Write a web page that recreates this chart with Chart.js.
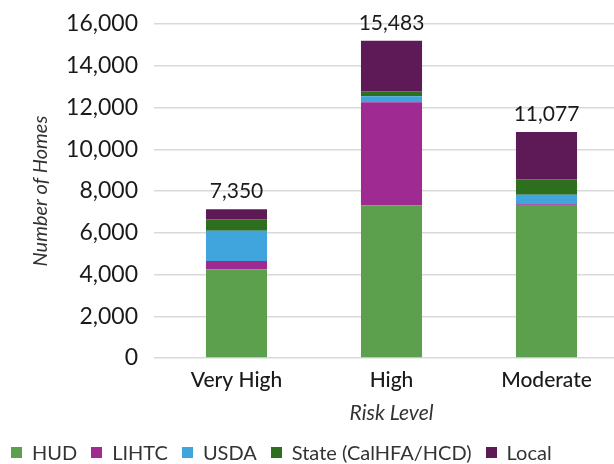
<!DOCTYPE html>
<html>
<head>
<meta charset="utf-8">
<script src="https://cdn.jsdelivr.net/npm/chart.js@4"></script>
<style>
  html, body { margin: 0; padding: 0; background: #fff; overflow: hidden; }
  #wrap { position: relative; width: 624px; height: 464px; }
  #legend {
    position: absolute; left: 11px; top: 440px;
    display: flex; align-items: center;
    font-family: Lato, "Open Sans", sans-serif; font-size: 20px; color: #333;
    white-space: nowrap;
  }
  #legend .item { display: flex; align-items: center; margin-right: 14px; }
  #legend .box { width: 11px; height: 11px; margin-right: 10px; }
</style>
</head>
<body>
<div id="wrap">
  <canvas id="riskChart" width="624" height="464"></canvas>
  <div id="legend"></div>
</div>
<script>
const categories = ["Very High", "High", "Moderate"];
const hud = [4240, 7320, 7290];
const lihtc = [410, 4930, 80];
const usda = [1440, 290, 445];
const state = [560, 240, 750];
const local = [480, 2420, 2260];
const totals = [7350, 15483, 11077];
const yTicks = [0, 2000, 4000, 6000, 8000, 10000, 12000, 14000, 16000];

const fontFamily = "Lato, 'Open Sans', sans-serif";
const textColor = "#1a1a1a";

// totals above each bar
const totalLabels = {
    id: "totalLabels",
    afterDatasetsDraw(chart) {
        const ctx = chart.ctx;
        const lastMeta = chart.getDatasetMeta(chart.data.datasets.length - 1);
        ctx.save();
        ctx.font = "21px " + fontFamily;
        ctx.fillStyle = textColor;
        ctx.textAlign = "center";
        ctx.textBaseline = "bottom";
        lastMeta.data.forEach((bar, i) => {
            ctx.fillText(totals[i].toLocaleString("en-US"), bar.x, bar.y - 7);
        });
        ctx.restore();
    }
};

const ctx = document.getElementById("riskChart").getContext("2d");

const chart = new Chart(ctx, {
    type: "bar",
    data: {
        labels: categories,
        datasets: [
            { label: "HUD", data: hud, backgroundColor: "#5c9f4c" },
            { label: "LIHTC", data: lihtc, backgroundColor: "#9e2a92" },
            { label: "USDA", data: usda, backgroundColor: "#41a5dd" },
            { label: "State (CalHFA/HCD)", data: state, backgroundColor: "#2e6e1f" },
            { label: "Local", data: local, backgroundColor: "#5e1a57" }
        ]
    },
    options: {
        responsive: false,
        animation: false,
        datasets: {
            bar: { categoryPercentage: 1, barPercentage: 0.394, borderWidth: 0 }
        },
        layout: { padding: { top: 24, bottom: 0 } },
        plugins: {
            legend: { display: false },
            tooltip: { enabled: false }
        },
        scales: {
            x: {
                stacked: true,
                afterFit: (scale) => { scale.height = 106; },
                grid: { display: false },
                border: { display: false },
                ticks: {
                    color: textColor,
                    font: { family: fontFamily, size: 21, weight: "500" },
                    padding: 2
                },
                title: {
                    display: true,
                    text: "Risk Level",
                    color: "#333",
                    font: { family: fontFamily, size: 21, style: "italic" },
                    padding: { top: 2, bottom: 38 }
                }
            },
            y: {
                stacked: true,
                min: 0,
                max: 16000,
                afterBuildTicks: (scale) => {
                    scale.ticks = yTicks.map(v => ({ value: v }));
                },
                afterFit: (scale) => {
                    scale.width = 159;
                    scale.paddingTop = 0;
                    scale.paddingBottom = 0;
                },
                grid: { color: "#d9d9d9", lineWidth: 1.5, tickLength: 5 },
                border: { display: false },
                ticks: {
                    color: textColor,
                    font: { family: fontFamily, size: 23 },
                    padding: 16,
                    callback: (v) => v.toLocaleString("en-US")
                },
                title: {
                    display: true,
                    text: "Number of Homes",
                    color: "#333",
                    font: { family: fontFamily, size: 20, style: "italic" },
                    padding: { top: 29 }
                }
            }
        }
    },
    plugins: [totalLabels]
});

// html legend built from the chart datasets
const legend = document.getElementById("legend");
chart.data.datasets.forEach((ds) => {
    const item = document.createElement("div");
    item.className = "item";
    const box = document.createElement("span");
    box.className = "box";
    box.style.background = ds.backgroundColor;
    const label = document.createElement("span");
    label.textContent = ds.label;
    item.appendChild(box);
    item.appendChild(label);
    legend.appendChild(item);
});
</script>
</body>
</html>
